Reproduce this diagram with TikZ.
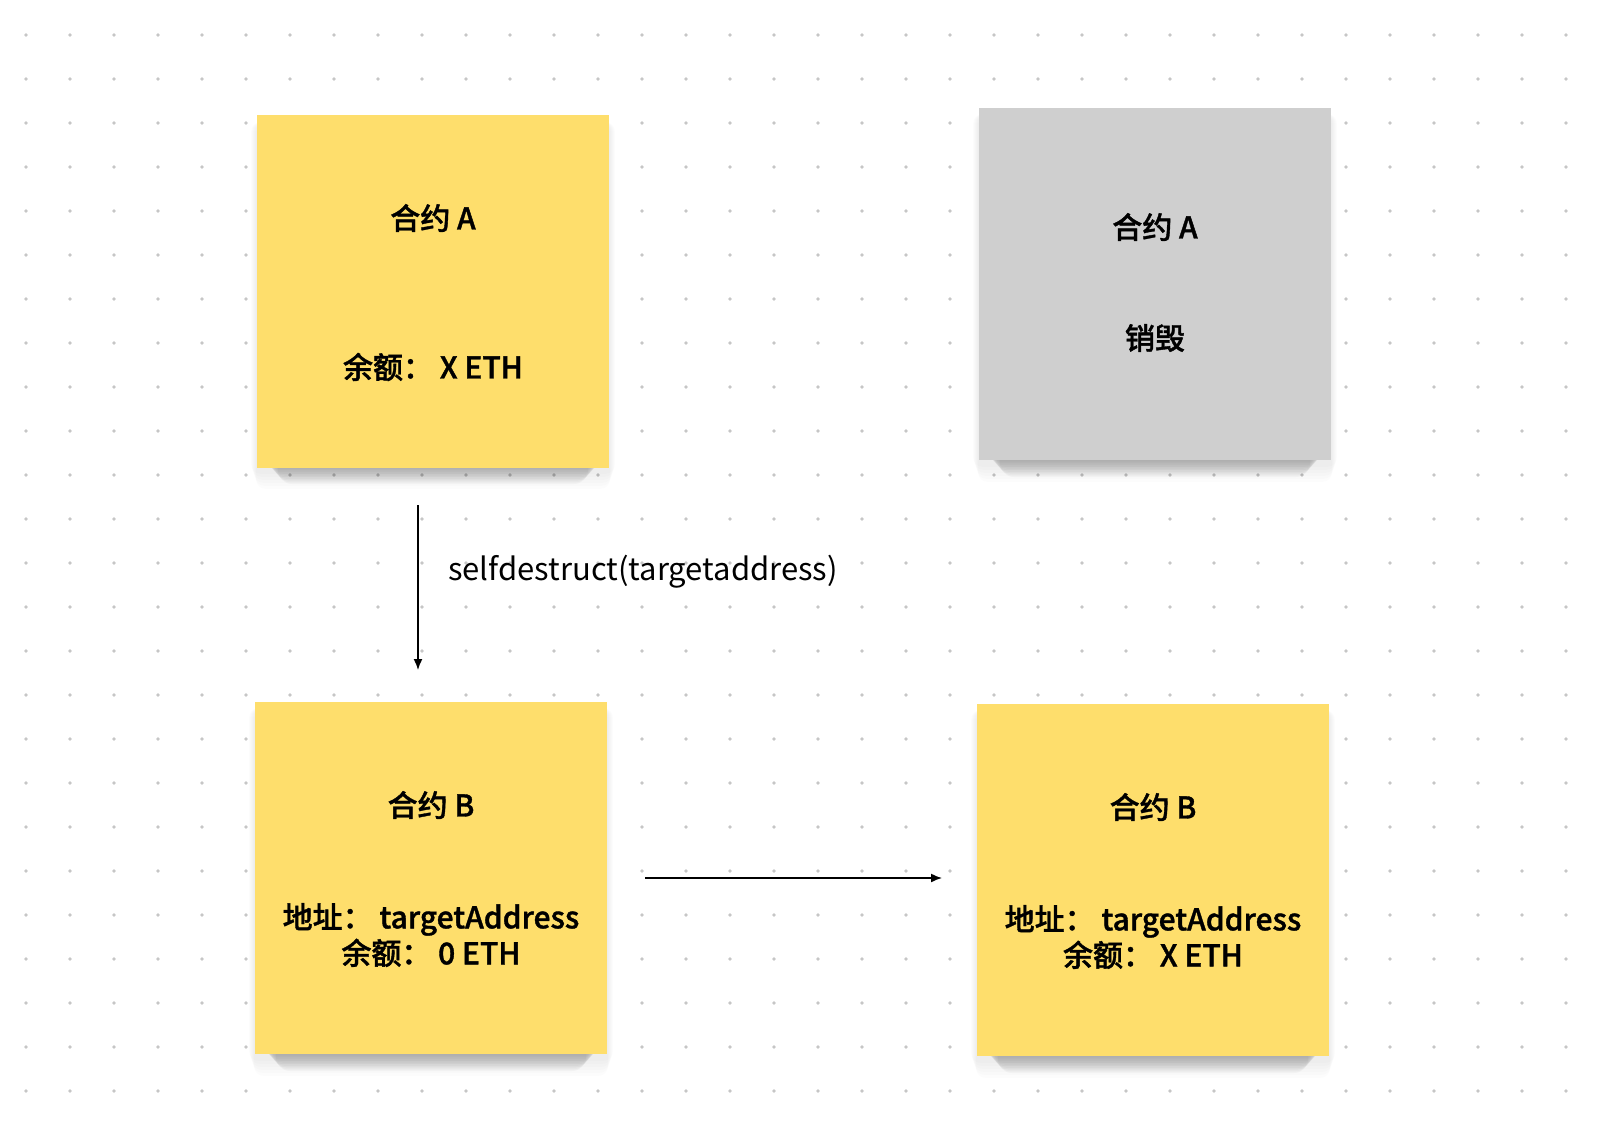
\documentclass[tikz,border=0pt]{standalone}
\usepackage{fontspec}
\setmainfont{Noto Sans CJK SC}[BoldFont={Noto Sans CJK SC Medium}, BoldFeatures={FakeBold=1.2}]
\usetikzlibrary{arrows.meta,calc}
\definecolor{sticky}{HTML}{FEDE6C}
\definecolor{stickygray}{HTML}{CFCFCF}
\definecolor{dotc}{HTML}{C6C6C6}
\begin{document}
\begin{tikzpicture}[x=1pt,y=-1pt,
  note/.style={draw=none, minimum width=352pt, minimum height=352pt, inner sep=0pt},
  notetext/.style={font=\fontsize{30}{36}\selectfont\bfseries, text=black, align=center, inner sep=0pt},
  softshadow/.style={fill=black, opacity=0.012, rounded corners=10pt},
  shadowlayer/.style={fill=black, opacity=0.026, rounded corners=14pt},
  conn/.style={-{Latex[length=11pt,width=9pt]}, line width=1.5pt, black}]
\useasboundingbox[fill=white] (0,0) rectangle (1620,1123);
\foreach \i in {0,...,35}
  \foreach \j in {0,...,24}
    \fill[dotc] (26+44*\i,35+44*\j) circle (1.9pt);
% shadows (around and below each note)
\foreach \cx/\ty/\by in {433/116/467, 1155/108/460, 431/702/1054, 1153/704/1056}{
  \foreach \k in {1,...,6}
    \fill[softshadow] (\cx-176-7+\k, \ty+6) rectangle (\cx+176+7-\k, \by+4+\k*3);
  \foreach \k in {1,...,10}
    \fill[shadowlayer] (\cx-176+6+\k*1.5, \by-40) rectangle (\cx+176-6-\k*1.5, \by+\k*1.7);
}
% notes
\node[note, fill=sticky] (A1) at (433,291.5) {};
\node[note, fill=stickygray] (A2) at (1155,284) {};
\node[note, fill=sticky] (B1) at (431,878) {};
\node[note, fill=sticky] (B2) at (1153,880) {};
% texts
\node[notetext] (tA1) at (433,218) {合约 A};
\node[notetext] (tA1b) at (433,367) {余额： X ETH};
\node[notetext] (tA2) at (1155,227) {合约 A};
\node[notetext] (tA2b) at (1155,338) {销毁};
\node[notetext] (tB1) at (431,805) {合约 B};
\node[notetext] (tB1b) at (431,935) {地址： targetAddress\\余额： 0 ETH};
\node[notetext] (tB2) at (1153,807) {合约 B};
\node[notetext] (tB2b) at (1153,937) {地址： targetAddress\\余额： X ETH};
% connectors
\coordinate (v1) at (418,505);
\coordinate (v2) at (418,670);
\coordinate (h1) at (645,878);
\coordinate (h2) at (942,878);
\draw[conn] (v1) -- (v2);
\draw[conn] (h1) -- (h2);
\node[anchor=west, inner sep=0pt, font=\fontsize{31}{36}\selectfont] (lbl) at (448,572) {selfdestruct(targetaddress)};
\end{tikzpicture}
\end{document}
